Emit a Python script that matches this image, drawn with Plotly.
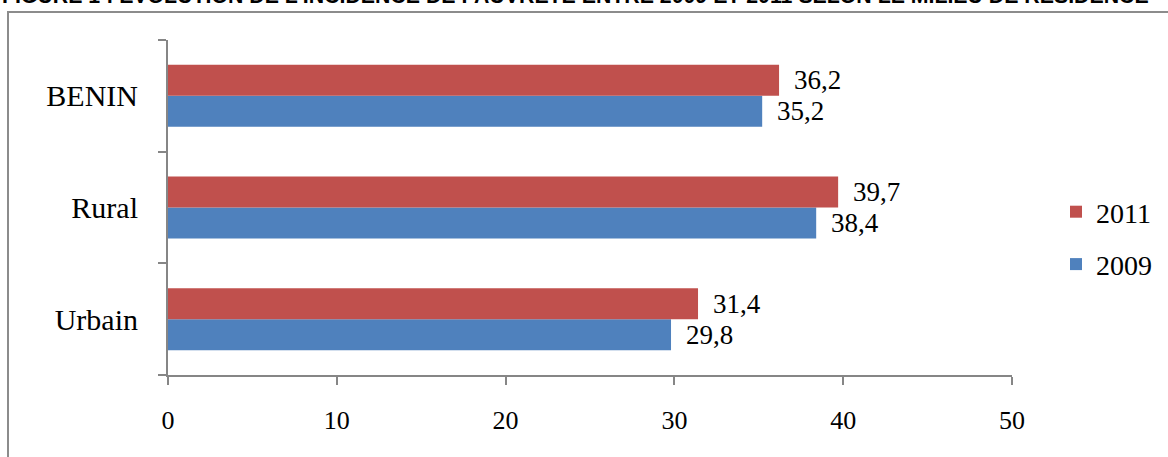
import plotly.graph_objects as go

categories = ["Urbain", "Rural", "BENIN"]
values_2009 = [29.8, 38.4, 35.2]
values_2011 = [31.4, 39.7, 36.2]
series_names = ["2009", "2011"]
colors = ["#4F81BD", "#C0504D"]
x_ticks = [0, 10, 20, 30, 40, 50]
title_text = "FIGURE 1 : ÉVOLUTION DE L'INCIDENCE DE PAUVRETÉ ENTRE 2009 ET 2011 SELON LE MILIEU DE RÉSIDENCE"

W, H = 1168, 457
ML, MR, MT, MB = 168, 156, 40, 82
PW, PH = W - ML - MR, H - MT - MB

serif = "Liberation Serif, Times New Roman, serif"
axis_col = "#868686"

fig = go.Figure()
for i, (name, vals, col) in enumerate(zip(series_names, [values_2009, values_2011], colors)):
    fig.add_trace(go.Bar(
        y=categories, x=vals, name=name, orientation="h",
        marker=dict(color=col, line=dict(width=0)),
        legendgroup=name, legendrank=2 - i,
    ))

# data labels
bargap = 0.445
band = PH / len(categories)
bar_px = band * (1 - bargap) / 2
annotations = []
for i, (name, vals) in enumerate(zip(series_names, [values_2009, values_2011])):
    shift = (-bar_px / 2) if i == 0 else (bar_px / 2)
    for c, v in zip(categories, vals):
        annotations.append(dict(
            x=v, y=c, xref="x", yref="y", text=f"{v:.1f}".replace(".", ","),
            showarrow=False, xanchor="left", yanchor="middle", xshift=13, yshift=shift,
            font=dict(family=serif, size=27, color="#000"),
        ))

annotations.append(dict(
    xref="paper", yref="paper", x=-ML / PW, y=1 + (MT - 10) / PH,
    xanchor="left", yanchor="bottom", text=f"<b>{title_text}</b>", showarrow=False,
    font=dict(family="Liberation Sans, Arial, sans-serif", size=21.3, color="#000"),
))

fig.update_layout(
    width=W, height=H,
    margin=dict(l=ML, r=MR, t=MT, b=MB, pad=0, autoexpand=False),
    paper_bgcolor="white", plot_bgcolor="white",
    barmode="group", bargap=bargap, bargroupgap=0,
    font=dict(family=serif, size=26, color="#000"),
    showlegend=True,
    legend=dict(
        traceorder="grouped", tracegroupgap=13,
        xref="container", yref="container",
        x=1056 / W, xanchor="left", y=1 - 238 / H, yanchor="middle",
        font=dict(family=serif, size=28, color="#000"),
        itemwidth=30, bgcolor="rgba(0,0,0,0)",
    ),
    annotations=annotations,
    shapes=[dict(
        type="rect", xref="paper", yref="paper",
        x0=(8 - ML) / PW, x1=(W + 10 - ML) / PW,
        y0=-1, y1=1 + (MT - 12) / PH,
        line=dict(color="#8c8c8c", width=2), fillcolor="rgba(0,0,0,0)", layer="below",
    )],
)

fig.update_xaxes(
    range=[0, 50], tickvals=x_ticks, showgrid=False, zeroline=False,
    showline=True, linecolor=axis_col, linewidth=2,
    ticks="outside", ticklen=8, tickwidth=2, tickcolor=axis_col,
    ticklabelstandoff=13, tickfont=dict(family=serif, size=26),
)
fig.update_yaxes(
    categoryorder="array", categoryarray=categories,
    showgrid=False, zeroline=False,
    showline=True, linecolor=axis_col, linewidth=2,
    ticks="outside", ticklen=8, tickwidth=2, tickcolor=axis_col,
    tickson="boundaries", ticklabelstandoff=22, tickfont=dict(family=serif, size=30),
)

fig.write_html("out.html")
